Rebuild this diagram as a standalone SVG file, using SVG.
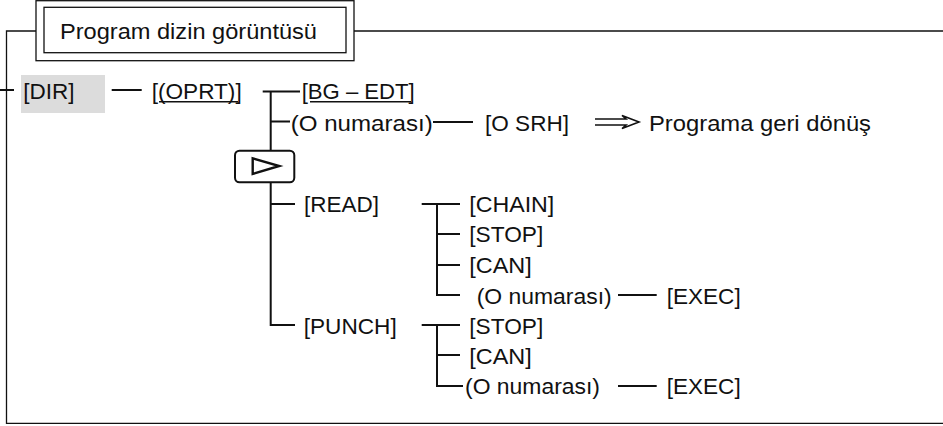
<svg xmlns="http://www.w3.org/2000/svg" width="943" height="426" viewBox="0 0 943 426">
<style>
text{font-family:"Liberation Sans",Arial,Helvetica,sans-serif;font-size:22.5px;fill:#111}
.frame{fill:none;stroke:#111;stroke-width:1.3}
.ln{fill:none;stroke:#111;stroke-width:2}
.ul{stroke:#111;stroke-width:1.6}
</style>
<rect width="943" height="426" fill="#fff"/>
<g id="frame">
<path class="frame" d="M36,31 H6.5 V423.3 H943 M354,31 H943"/>
</g>
<g id="title">
<rect class="frame" x="36" y="0.7" width="318" height="60"/>
<rect class="frame" x="44" y="7.3" width="302" height="45.4"/>
<text x="60" y="38.5" textLength="257" lengthAdjust="spacingAndGlyphs">Program dizin görüntüsü</text>
</g>
<g id="connectors">
<path class="ln" d="M0,90 H14"/>
<path class="ln" d="M111.7,90 H141.7"/>
<path class="ln" d="M262.7,91.5 H300 M270.7,91.5 V150.7 M270.7,121.5 H290"/>
<path class="ln" d="M433,122 H473"/>
<path class="ln" d="M270.7,182.3 V325 H295 M270.7,204 H295"/>
<path class="ln" d="M421.7,204 H460 M437,204 V295 H460 M437,234 H460 M437,265 H460"/>
<path class="ln" d="M618,295 H656.7"/>
<path class="ln" d="M421.7,325 H460 M437,325 V386 H463 M437,355 H460"/>
<path class="ln" d="M618,386 H656.7"/>
<path fill="none" stroke="#111" stroke-width="1.6" d="M595,119 H626 L622,115.5 L639,122 L622,128.5 L626,125 H595"/>
</g>
<g id="node-dir">
<rect x="21" y="75" width="84" height="38" fill="#dcdcdc"/>
<text x="23.3" y="99">[DIR]</text>
</g>
<g id="node-oprt">
<text x="151.7" y="99" textLength="90" lengthAdjust="spacingAndGlyphs">[(OPRT)]</text>
<line class="ul" x1="159" y1="101.7" x2="238" y2="101.7"/>
</g>
<g id="node-bgedt">
<text x="301.7" y="99" textLength="113" lengthAdjust="spacingAndGlyphs">[BG – EDT]</text>
<line class="ul" x1="310" y1="101.7" x2="411" y2="101.7"/>
</g>
<g id="node-onum1">
<text x="290.7" y="130.5" textLength="142" lengthAdjust="spacingAndGlyphs">(O numarası)</text>
</g>
<g id="node-osrh">
<text x="485" y="130.5" textLength="84" lengthAdjust="spacingAndGlyphs">[O SRH]</text>
</g>
<g id="node-return">
<text x="649" y="130.5" textLength="222" lengthAdjust="spacingAndGlyphs">Programa geri dönüş</text>
</g>
<g id="node-next">
<rect x="235" y="150.7" width="59.3" height="31.6" rx="4.5" fill="#fff" stroke="#111" stroke-width="2"/>
<path d="M252.7,158.3 V174 L279.3,166 Z" fill="none" stroke="#111" stroke-width="2.4" stroke-linejoin="miter"/>
</g>
<g id="node-read">
<text x="304" y="212" textLength="75" lengthAdjust="spacingAndGlyphs">[READ]</text>
</g>
<g id="node-chain">
<text x="469.3" y="212" textLength="85" lengthAdjust="spacingAndGlyphs">[CHAIN]</text>
</g>
<g id="node-stop1">
<text x="469.3" y="242" textLength="74" lengthAdjust="spacingAndGlyphs">[STOP]</text>
</g>
<g id="node-can1">
<text x="469.3" y="273" textLength="62.4" lengthAdjust="spacingAndGlyphs">[CAN]</text>
</g>
<g id="node-onum2">
<text x="476.7" y="303.5" textLength="135" lengthAdjust="spacingAndGlyphs">(O numarası)</text>
</g>
<g id="node-exec1">
<text x="666.7" y="303.5" textLength="74" lengthAdjust="spacingAndGlyphs">[EXEC]</text>
</g>
<g id="node-punch">
<text x="303.7" y="333.5" textLength="93" lengthAdjust="spacingAndGlyphs">[PUNCH]</text>
</g>
<g id="node-stop2">
<text x="469.3" y="333.5" textLength="74" lengthAdjust="spacingAndGlyphs">[STOP]</text>
</g>
<g id="node-can2">
<text x="469.3" y="363.5" textLength="62.4" lengthAdjust="spacingAndGlyphs">[CAN]</text>
</g>
<g id="node-onum3">
<text x="465" y="394" textLength="135" lengthAdjust="spacingAndGlyphs">(O numarası)</text>
</g>
<g id="node-exec2">
<text x="666.7" y="394" textLength="74" lengthAdjust="spacingAndGlyphs">[EXEC]</text>
</g>
</svg>
